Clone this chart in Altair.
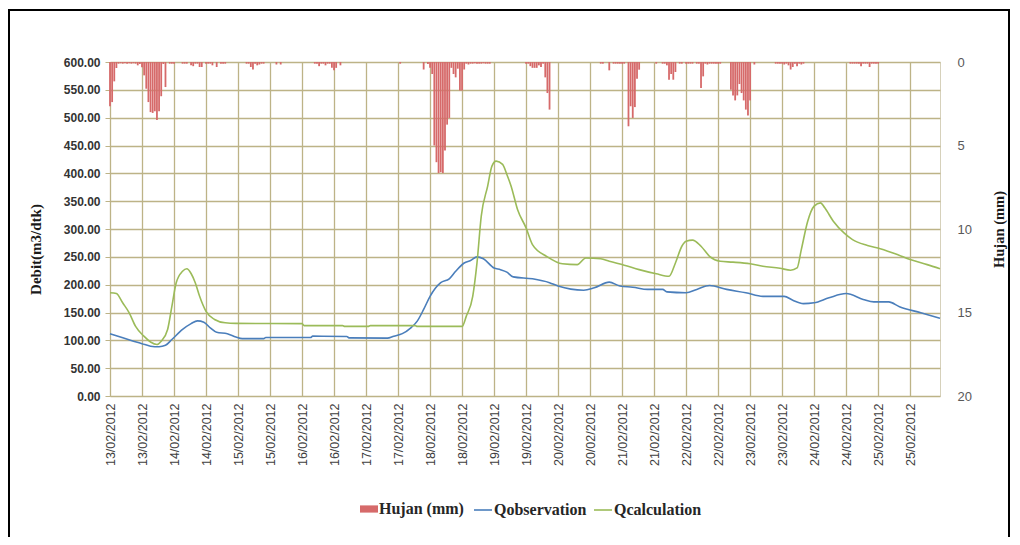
import altair as alt
import pandas as pd

# ---------------- data ----------------
# x positions are sample indices; one tick label every 15 samples (two per day)
tick_labels = [
    "13/02/2012", "13/02/2012", "14/02/2012", "14/02/2012", "15/02/2012", "15/02/2012",
    "16/02/2012", "16/02/2012", "17/02/2012", "17/02/2012", "18/02/2012", "18/02/2012",
    "19/02/2012", "19/02/2012", "20/02/2012", "20/02/2012", "21/02/2012", "21/02/2012",
    "22/02/2012", "22/02/2012", "23/02/2012", "23/02/2012", "24/02/2012", "24/02/2012",
    "25/02/2012", "25/02/2012",
]
tick_values = [0, 15, 30, 45, 60, 75, 90, 105, 120, 135, 150, 165, 180,
               195, 210, 225, 240, 255, 270, 285, 300, 315, 330, 345, 360, 375]

rain_index = [0, 1, 2, 3, 4, 5, 6, 7, 8, 9, 10, 11, 12, 13, 14,
              15, 16, 17, 18, 19, 20, 21, 22, 23, 24, 25, 26, 28, 29, 30,
              34, 35, 36, 38, 39, 40, 41, 42, 43, 45, 46, 47, 48, 50, 52, 53, 54,
              64, 65, 66, 67, 68, 69, 70, 71, 72, 78, 80,
              96, 97, 98, 99, 100, 101, 102, 103, 104, 105, 106, 108, 136,
              147, 149, 150, 151, 152, 153, 154, 155, 156, 157, 158, 159, 160, 161, 162,
              163, 164, 165, 166, 167, 168, 169, 170, 171, 172, 173, 174, 175, 176, 177, 178,
              195, 196, 197, 198, 199, 200, 201, 202, 203, 204, 205, 206,
              230, 231, 234, 236, 237, 238, 239, 240, 241,
              243, 244, 245, 246, 247, 248,
              256, 259, 260, 261, 262, 263, 264, 265, 267, 268, 270, 271, 272, 273, 275, 276,
              277, 278, 279, 280, 281, 282, 283, 284, 285, 286,
              291, 292, 293, 294, 295, 296, 297, 298, 299, 300, 302,
              312, 313, 314, 315, 316, 317, 318, 319, 320, 321, 322, 323, 324, 325,
              347, 348, 349, 350, 351, 352, 353, 354, 355, 356, 357, 358, 359, 360]
rain_mm = [2.65, 2.4, 1.16, 0.36, 0.1, 0.08, 0.1, 0.08, 0.1, 0.08, 0.1, 0.08, 0.1, 0.2, 0.12,
           0.32, 0.8, 1.6, 2.4, 3.0, 3.05, 2.95, 3.47, 2.95, 2.05, 0.12, 1.5, 0.1, 0.1, 0.1,
           0.1, 0.1, 0.1, 0.2, 0.25, 0.1, 0.1, 0.3, 0.3, 0.1, 0.1, 0.1, 0.2, 0.3, 0.1, 0.1, 0.1,
           0.1, 0.1, 0.3, 0.45, 0.1, 0.2, 0.15, 0.1, 0.1, 0.15, 0.15,
           0.1, 0.1, 0.25, 0.1, 0.1, 0.2, 0.1, 0.1, 0.35, 0.5, 0.35, 0.2, 0.1,
           0.45, 0.12, 0.35, 0.72, 5.0, 6.0, 6.65, 6.6, 6.65, 5.3, 3.75, 3.35, 0.35, 0.72, 0.92,
           0.4, 1.7, 1.7, 0.45, 0.1, 0.15, 0.1, 0.1, 0.08, 0.1, 0.1, 0.1, 0.08, 0.1, 0.1, 0.1,
           0.1, 0.1, 0.25, 0.35, 0.35, 0.35, 0.2, 0.3, 0.1, 0.92, 1.86, 2.85,
           0.1, 0.1, 0.5, 0.1, 0.1, 0.1, 0.1, 0.1, 0.1,
           3.85, 2.65, 3.35, 2.7, 1.0, 0.46,
           0.1, 0.1, 0.1, 0.2, 1.06, 0.72, 1.06, 0.6, 0.1, 0.1, 0.1, 0.1, 0.1, 0.1, 0.1, 0.1,
           1.56, 0.86, 0.1, 0.15, 0.1, 0.1, 0.1, 0.1, 0.1, 0.1,
           1.66, 2.0, 2.3, 2.0, 1.32, 1.86, 2.3, 2.85, 3.2, 2.3, 0.15,
           0.1, 0.1, 0.1, 0.1, 0.15, 0.1, 0.2, 0.45, 0.3, 0.1, 0.25, 0.1, 0.15, 0.1,
           0.1, 0.1, 0.1, 0.1, 0.1, 0.25, 0.1, 0.1, 0.1, 0.3, 0.1, 0.1, 0.1, 0.1]

obs_index = [0, 6, 11, 15, 19, 23, 26, 29, 34, 38, 41, 44, 47, 50, 55, 59, 62, 72, 73, 94, 95,
             111, 112, 130, 133, 137, 141, 144, 147, 150, 155, 159, 162, 166, 169, 172, 175,
             180, 183, 186, 189, 198, 206, 210, 222, 227, 234, 239, 245, 252, 259, 261, 270,
             275, 281, 289, 298, 306, 316, 320, 325, 330, 337, 345, 353, 358, 365, 370, 380, 389]
obs_value = [112, 104.5, 98.5, 94, 89.5, 88.5, 91, 101.5, 119.5, 130, 135, 132.5, 122.5, 114.5,
             112, 106, 103, 103, 105, 105, 107.5, 107, 104.5, 104, 107.5, 112, 122.5, 134.5,
             155.5, 179, 203.5, 210.5, 224, 239, 243.5, 250, 246.5, 230, 227, 222.5, 214,
             210.5, 203.5, 197.5, 190, 194.5, 204.5, 197.5, 195.5, 191.5, 191.5, 187, 185.5,
             191.5, 198.5, 191.5, 185.5, 179, 179, 172, 166, 167.5, 176.5, 184, 173.5, 169,
             169, 160.5, 149.5, 139.5]

calc_index = [0, 3, 6, 9, 12, 16, 19, 22, 24, 27, 29, 31, 34, 36, 38, 40, 42, 45, 49, 54, 59,
              90, 91, 109, 110, 121, 122, 143, 144, 165, 167, 170, 172, 174, 177, 179, 181,
              184, 186, 188, 191, 195, 198, 205, 212, 219, 223, 230, 234, 241, 248, 256, 262,
              265, 268, 270, 273, 277, 281, 286, 292, 300, 306, 314, 319, 322, 324, 327, 330,
              333, 335, 339, 344, 348, 355, 361, 369, 375, 383, 389]
calc_value = [185.5, 184, 167, 149.5, 125, 107, 97, 92.5, 98.5, 119.5, 161, 203, 224, 228.5,
              220, 203, 179, 152, 137.5, 131.5, 130.5, 130, 126.5, 126.5, 125, 125, 126.5,
              126.5, 125, 125, 143.5, 179, 239, 323, 377, 413, 422, 416, 398, 377, 335, 302,
              272, 250, 237.5, 236, 248, 246.5, 242, 235, 227, 219.5, 215, 239, 269, 278, 280,
              269, 251, 242, 240.5, 237.5, 233, 229.5, 226, 230, 263, 314, 341, 347, 338, 314,
              293, 281, 270.5, 264.5, 254, 245, 236, 228.5]

rain_name = "Hujan (mm)"
rain_color = "#d66a6a"
flow_names = ["Qobservation", "Qcalculation"]
flow_colors = ["#4a7ebb", "#9bbb59"]

# ---------------- tables ----------------
rain_df = pd.DataFrame({"t": rain_index, "mm": rain_mm, "series": rain_name})
flow_df = pd.concat([
    pd.DataFrame({"t": obs_index, "q": obs_value, "series": flow_names[0]}),
    pd.DataFrame({"t": calc_index, "q": calc_value, "series": flow_names[1]}),
])

GRID = "#bdb387"
labels_js = "[" + ",".join("'" + s + "'" for s in tick_labels) + "]"

x_enc = alt.X(
    "t:Q",
    scale=alt.Scale(domain=[0, 389], nice=False, zero=False, padding=0),
    axis=alt.Axis(
        values=tick_values, labelExpr=labels_js + "[round(datum.value / 15)]",
        title=None, labelAngle=270, grid=True, ticks=False, domain=False,
        labelPadding=7, labelFontSize=12.5, labelColor="#404040",
        labelFlush=False, labelOverlap=False,
    ),
)

legend_common = dict(
    title=None, orient="none", legendY=438, direction="horizontal", symbolSize=324,
    labelFont="Liberation Serif", labelFontSize=16, labelFontWeight="bold",
    labelColor="#262626", columnPadding=3, labelOffset=1,
)

bars = alt.Chart(rain_df).mark_bar(width=1.8).encode(
    x=x_enc,
    y=alt.Y(
        "mm:Q",
        scale=alt.Scale(domain=[0, 20], reverse=True, nice=False),
        axis=alt.Axis(
            orient="right", values=[0, 5, 10, 15, 20], format="d", grid=False,
            ticks=False, domain=False, labelPadding=17, labelFontSize=13,
            labelColor="#595959", title="Hujan (mm)", titleAngle=270,
            titleX=59, titleY=167, titleBaseline="middle", titleFontSize=14.5,
        ),
    ),
    fill=alt.Fill(
        "series:N", scale=alt.Scale(domain=[rain_name], range=[rain_color]),
        legend=alt.Legend(legendX=250, symbolType="M-1,-0.4H1V0.4H-1Z",
                          symbolStrokeWidth=0, **legend_common),
    ),
)

lines = alt.Chart(flow_df).mark_line(interpolate="monotone", strokeWidth=1.6).encode(
    x=x_enc,
    y=alt.Y(
        "q:Q",
        scale=alt.Scale(domain=[0, 600], nice=False),
        axis=alt.Axis(
            orient="left", values=list(range(0, 601, 50)), format=".2f", grid=True,
            ticks=True, tickSize=5, domain=False, labelPadding=5, labelFontSize=12,
            labelFontWeight="bold", labelColor="#333333", title="Debit(m3/dtk)",
            titleX=-75, titleY=187, titleBaseline="middle", titleFontSize=15,
        ),
    ),
    stroke=alt.Stroke(
        "series:N", scale=alt.Scale(domain=flow_names, range=flow_colors),
        legend=alt.Legend(legendX=363, symbolType="stroke", symbolStrokeWidth=1.6,
                          **legend_common),
    ),
)

frame = alt.Chart(alt.Data(values=[{}])).mark_rect(
    filled=False, stroke="#000000", strokeWidth=2
).encode(
    x=alt.value(-101), x2=alt.value(899), y=alt.value(-52), y2=alt.value(520)
)

chart = (
    alt.layer(bars, lines, frame)
    .resolve_scale(y="independent")
    .properties(
        width=830, height=334,
        padding={"left": 102, "top": 54, "right": 72, "bottom": 141},
        autosize=alt.AutoSizeParams(type="none"),
        background="white",
    )
    .configure_view(stroke="#d6d1bb", strokeWidth=1)
    .configure_axis(
        gridColor=GRID, gridWidth=1.3, tickColor=GRID,
        labelFont="Liberation Sans", titleFont="Liberation Serif",
        titleFontWeight="bold", titleColor="#1a1a1a",
    )
)

chart.save("out.html", embed_options={"renderer": "svg", "actions": False})
